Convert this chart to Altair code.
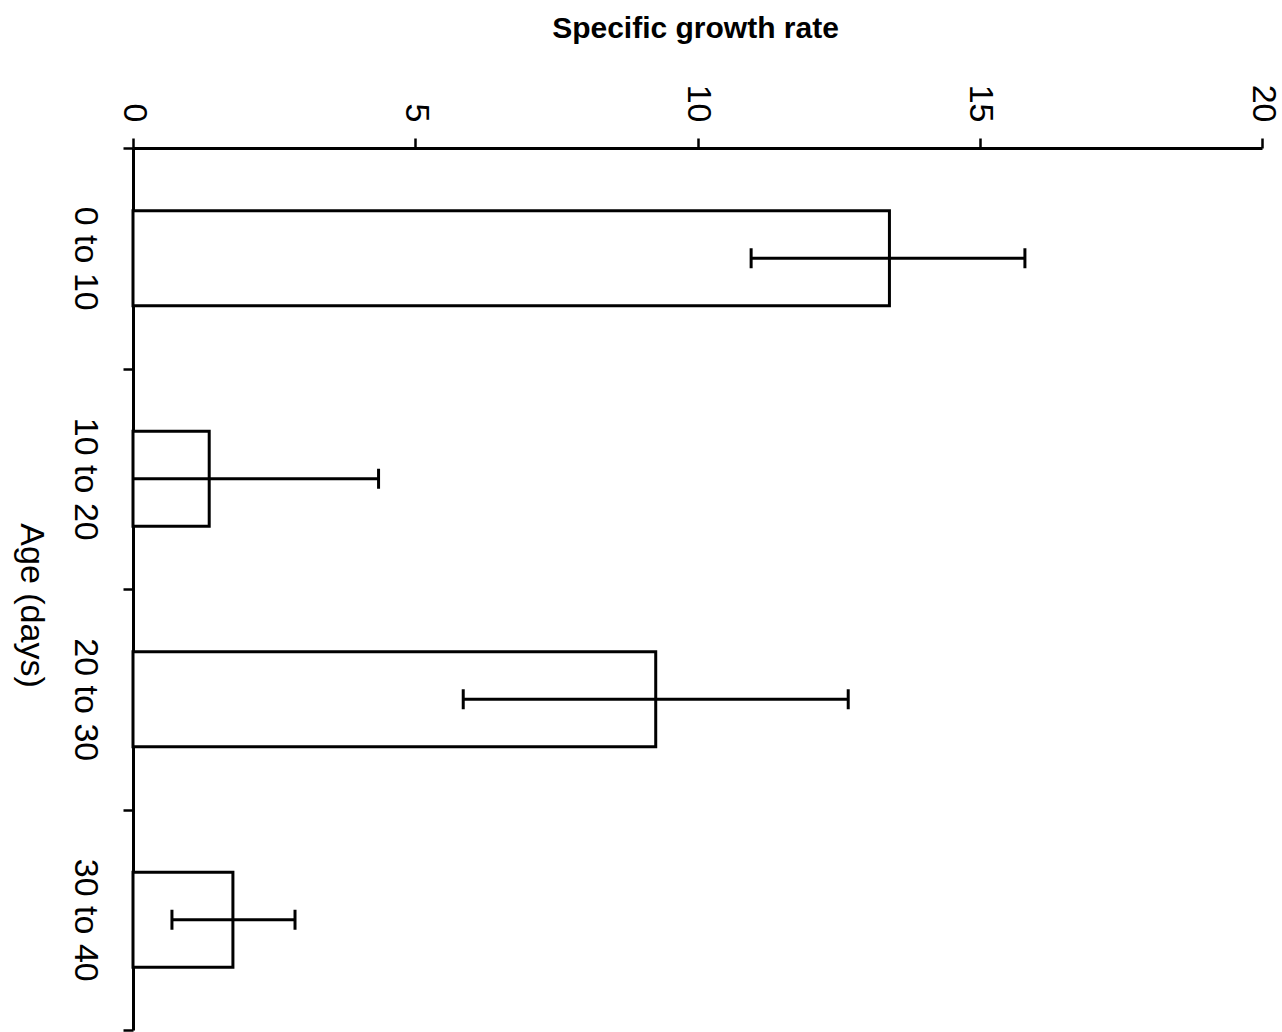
import altair as alt
import pandas as pd

categories = ["0 to 10", "10 to 20", "20 to 30", "30 to 40"]
rates = [13.4, 1.35, 9.26, 1.77]
err_low = [10.95, 0.0, 5.85, 0.69]
err_high = [15.8, 4.35, 12.67, 2.87]
x_ticks = [0, 5, 10, 15, 20]

df = pd.DataFrame({"age": categories, "rate": rates, "lo": err_low, "hi": err_high})

caps = []
for c, lo, hi in zip(categories, err_low, err_high):
    if lo > 0:
        caps.append({"age": c, "v": lo})
    caps.append({"age": c, "v": hi})
caps_df = pd.DataFrame(caps)

FONT = "Liberation Sans"

y_scale = alt.Scale(domain=categories, paddingInner=0, paddingOuter=0)

y_enc = alt.Y(
    "age:N",
    sort=categories,
    scale=y_scale,
    axis=alt.Axis(
        title="Age (days)",
        titleAngle=90,
        titleFont=FONT,
        titleFontSize=34,
        titleFontWeight="normal",
        titleColor="black",
        titleBaseline="middle",
        titleAlign="center",
        titleX=-103,
        titleY=457,
        labelAngle=90,
        labelAlign="center",
        labelBaseline="top",
        labelFont=FONT,
        labelFontSize=34,
        labelColor="black",
        labelPadding=22,
        tickBand="extent",
        tickSize=10,
        tickWidth=2.5,
        tickColor="black",
        domainColor="black",
        domainWidth=3,
    ),
)

x_scale = alt.Scale(domain=[0, 20], nice=False)

bars = alt.Chart(df).mark_bar(
    fill="white", stroke="black", strokeWidth=3, size=95
).encode(
    y=y_enc,
    x=alt.X(
        "rate:Q",
        scale=x_scale,
        axis=alt.Axis(
            orient="top",
            values=x_ticks,
            format="d",
            title="Specific growth rate",
            titleFont=FONT,
            titleFontSize=30,
            titleFontWeight="bold",
            titleColor="black",
            titleBaseline="middle",
            titleAlign="center",
            titleX=562,
            titleY=-120,
            labelAngle=90,
            labelAlign="right",
            labelBaseline="middle",
            labelFont=FONT,
            labelFontSize=34,
            labelColor="black",
            labelPadding=16,
            tickSize=10,
            tickWidth=2.5,
            tickColor="black",
            domainColor="black",
            domainWidth=3,
            grid=False,
        ),
    ),
)

rules = alt.Chart(df).mark_rule(color="black", strokeWidth=3, opacity=1).encode(
    y=alt.Y("age:N", sort=categories, scale=y_scale),
    x=alt.X("lo:Q", scale=x_scale),
    x2="hi:Q",
)

cap_marks = alt.Chart(caps_df).mark_tick(
    color="black", thickness=3, size=20, orient="vertical", opacity=1
).encode(
    y=alt.Y("age:N", sort=categories, scale=y_scale),
    x=alt.X("v:Q", scale=x_scale),
)

chart = alt.layer(bars, rules, cap_marks).properties(
    width=1129,
    height=882,
    padding={"left": 133, "top": 148, "right": 20, "bottom": 2},
    autosize=alt.AutoSizeParams(type="none"),
    background="white",
).configure_view(stroke=None).configure_axis(grid=False)

chart.save("out.html", embed_options={"renderer": "svg", "actions": False})
